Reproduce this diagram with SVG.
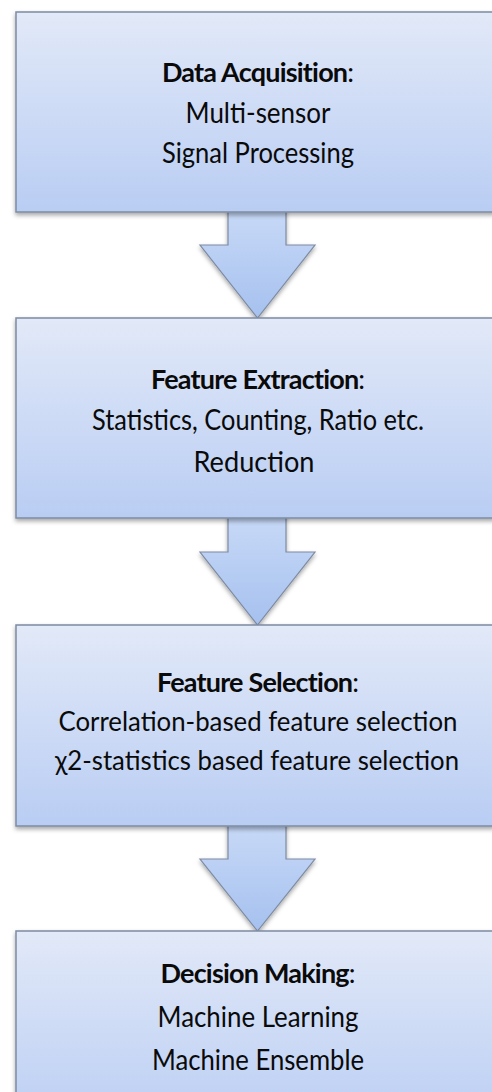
<svg xmlns="http://www.w3.org/2000/svg" width="492" height="1092" viewBox="0 0 492 1092">
<defs>
<linearGradient id="boxg" x1="0" y1="0" x2="0" y2="1">
<stop offset="0" stop-color="#e2e9f8"/>
<stop offset="1" stop-color="#b9cdf3"/>
</linearGradient>
<linearGradient id="arrg" x1="0" y1="0" x2="0" y2="1">
<stop offset="0" stop-color="#c9daf7"/>
<stop offset="1" stop-color="#a6c1ef"/>
</linearGradient>
<filter id="sh" x="-10%" y="-10%" width="120%" height="130%">
<feDropShadow dx="0" dy="2.5" stdDeviation="2" flood-color="#000" flood-opacity="0.35"/>
</filter>
</defs>
<style>
.box{fill:url(#boxg);stroke:#7d8ba3;stroke-width:1.5;filter:url(#sh);}
.arr{fill:url(#arrg);stroke:#7d8ba3;stroke-width:1.2;stroke-linejoin:miter;filter:url(#sh);}
.t{font-family:Lato,"Open Sans","Liberation Sans",sans-serif;font-size:29px;fill:#0a0a0a;text-anchor:middle;}
.s{font-size:27px;}
.hd{font-size:27px;}
.h{font-weight:bold;letter-spacing:-0.8px;}
</style>
<rect x="0" y="0" width="492" height="1092" fill="#ffffff"/>
<g id="connectors">
<path class="arr" d="M228,205 L228,245 L200,245 L257.5,318 L315,245 L286,245 L286,205 Z"/>
<path class="arr" d="M228,511 L228,552 L200,552 L257.5,625 L315,552 L286,552 L286,511 Z"/>
<path class="arr" d="M228,819 L228,859 L200,859 L257.5,931 L315,859 L286,859 L286,819 Z"/>
</g>
<g id="n1">
<rect class="box" x="16" y="12" width="479" height="200"/>
<text class="t hd" x="258" y="82"><tspan class="h">Data Acquisition</tspan>:</text>
<text class="t" x="258" y="123" textLength="145" lengthAdjust="spacingAndGlyphs">Multi-sensor</text>
<text class="t" x="258" y="163" textLength="192" lengthAdjust="spacingAndGlyphs">Signal Processing</text>
</g>
<g id="n2">
<rect class="box" x="16" y="318" width="479" height="200"/>
<text class="t hd" x="258" y="389"><tspan class="h">Feature Extraction</tspan>:</text>
<text class="t" x="258" y="430" textLength="332" lengthAdjust="spacingAndGlyphs">Statistics, Counting, Ratio etc.</text>
<text class="t" x="254" y="472" textLength="121" lengthAdjust="spacingAndGlyphs">Reduction</text>
</g>
<g id="n3">
<rect class="box" x="16" y="625" width="479" height="201"/>
<text class="t hd" x="258" y="692"><tspan class="h">Feature Selection</tspan>:</text>
<text class="t s" x="258" y="731" textLength="399" lengthAdjust="spacingAndGlyphs">Correlation-based feature selection</text>
<text class="t s" x="257" y="770" textLength="404" lengthAdjust="spacingAndGlyphs">χ2-statistics based feature selection</text>
</g>
<g id="n4">
<rect class="box" x="16" y="931" width="479" height="200"/>
<text class="t hd" x="258" y="983"><tspan class="h">Decision Making</tspan>:</text>
<text class="t" x="258" y="1027" textLength="201" lengthAdjust="spacingAndGlyphs">Machine Learning</text>
<text class="t" x="258" y="1070" textLength="212" lengthAdjust="spacingAndGlyphs">Machine Ensemble</text>
</g>
</svg>
